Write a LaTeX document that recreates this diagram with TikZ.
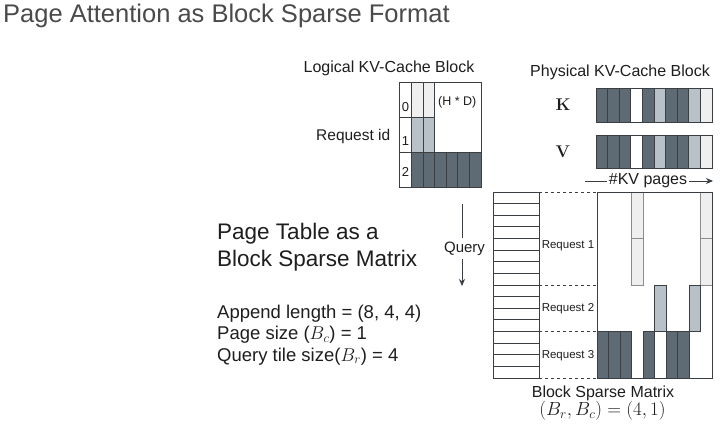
\documentclass[tikz,border=0pt]{standalone}
\usepackage{fix-cm}
\usepackage[no-math]{fontspec}
\setmainfont{Liberation Sans}
\usetikzlibrary{arrows.meta}
\definecolor{cdark}{HTML}{5E6A74}
\definecolor{cmid}{HTML}{B8C0C8}
\definecolor{clight}{HTML}{EFEFEF}
\definecolor{cedge}{HTML}{3A3F44}
\definecolor{ctitle}{HTML}{4A4A4A}
\definecolor{ctext}{HTML}{1E1E1E}
\tikzset{
  cellbox/.style={draw=cedge, line width=0.8pt},
  lightbox/.style={draw=black!45, line width=0.8pt, fill=clight},
  frame/.style={draw=cedge, line width=0.9pt},
  guide/.style={dashed, draw=cedge, line width=0.8pt, dash pattern=on 3pt off 3pt},
  txt/.style={inner sep=0pt, text=ctext},
  arr/.style={draw=cedge, line width=0.8pt, -{Stealth[length=7pt,width=6pt]}},
}
\begin{document}
\begin{tikzpicture}[x=1pt,y=-1pt]
\useasboundingbox[fill=white] (0,0) rectangle (720,428);

% title
\node[txt, anchor=base west, text=ctitle, font=\fontsize{25.5}{30}\selectfont] (title) at (3,23) {Page Attention as Block Sparse Format};

% ---------- Logical KV-cache block ----------
\node[txt, anchor=base, font=\fontsize{16}{19}\selectfont] (logt) at (389,72.5) {Logical KV-Cache Block};
\foreach \i in {0,1} \draw[lightbox, draw=cedge] ({411.5+\i*11.58},82) rectangle ++(11.58,35.5);
\foreach \i in {0,1} \draw[cellbox, fill=cmid] ({411.5+\i*11.58},117.5) rectangle ++(11.58,35);
\foreach \i in {0,...,5} \draw[cellbox, fill=cdark] ({411.5+\i*11.58},152.5) rectangle ++(11.58,34.5);
\draw[frame] (399,82) rectangle (481,187);
\draw[frame] (411.5,82) -- (411.5,187);
\draw[frame] (399,117.5) -- (411.5,117.5);
\draw[frame] (399,152.5) -- (481,152.5);
\node[txt, anchor=base, font=\fontsize{13}{15}\selectfont] (i0) at (405.5,111) {0};
\node[txt, anchor=base, font=\fontsize{13}{15}\selectfont] (i1) at (405.5,145) {1};
\node[txt, anchor=base, font=\fontsize{13}{15}\selectfont] (i2) at (405.5,176) {2};
\node[txt, anchor=base west, font=\fontsize{12.5}{15}\selectfont] (hd) at (438,105) {(H * D)};
\node[txt, anchor=base west, font=\fontsize{15.5}{18}\selectfont] (reqid) at (316,140.5) {Request id};

% ---------- Physical KV-cache block ----------
\node[txt, anchor=base, font=\fontsize{16}{19}\selectfont] (phyt) at (620,76.5) {Physical KV-Cache Block};
\node[txt, font=\fontsize{17}{20}\selectfont] (K) at (563,104.5) {$\mathbf{K}$};
\node[txt, font=\fontsize{17}{20}\selectfont] (V) at (563,152) {$\mathbf{V}$};
\foreach \c [count=\i from 0] in {cdark,cdark,cdark,white,cdark,cmid,cdark,cdark,cmid,clight}{
  \draw[cellbox, fill=\c] ({596+\i*11.6},88) rectangle ++(11.6,34);
  \draw[cellbox, fill=\c] ({596+\i*11.6},135) rectangle ++(11.6,33);
}
\node[txt, font=\fontsize{16}{19}\selectfont, inner xsep=2pt] (kv) at (648,181) {\#KV pages};
\coordinate (kvs) at (585,181);
\coordinate (kve) at (713,181);
\draw[draw=cedge, line width=0.8pt] (kvs) -- (kv.west);
\draw[arr] (kv.east) -- (kve);

% ---------- left text ----------
\node[txt, anchor=base west, font=\fontsize{22.5}{27}\selectfont] (pt1) at (217,239) {Page Table as a};
\node[txt, anchor=base west, font=\fontsize{22.5}{27}\selectfont] (pt2) at (217,266.5) {Block Sparse Matrix};
\node[txt, anchor=base west, font=\fontsize{18.5}{21}\selectfont] (al) at (217,318) {Append length = (8, 4, 4)};
\node[txt, anchor=base west, font=\fontsize{18.5}{21}\selectfont] (ps) at (217,339.5) {Page size ($B_c$) = 1};
\node[txt, anchor=base west, font=\fontsize{18.5}{21}\selectfont] (qt) at (217,361) {Query tile size($B_r$) = 4};

% Query arrow
\node[txt, font=\fontsize{15}{18}\selectfont, inner ysep=4pt] (q) at (464.5,248.5) {Query};
\coordinate (qtop) at (462,204);
\coordinate (qbot) at (462,286);
\draw[draw=cedge, line width=0.8pt] (qtop) -- (qtop |- q.north);
\draw[arr] (qbot |- q.south) -- (qbot);

% ---------- page table ----------
\draw[frame] (493,192) rectangle (539,378);
\foreach \k in {1,...,15} \draw[cellbox] (493,{192+\k*11.625}) -- (539,{192+\k*11.625});

% guides
\coordinate (g0a) at (539,192);   \coordinate (g0b) at (597,192);
\coordinate (g1a) at (539,285);   \coordinate (g1b) at (597,285);
\coordinate (g2a) at (539,331.5); \coordinate (g2b) at (597,331.5);
\coordinate (g3a) at (539,378);   \coordinate (g3b) at (597,378);
\draw[guide] (g0a) -- (g0b);
\draw[guide] (g1a) -- (g1b);
\draw[guide] (g2a) -- (g2b);
\draw[guide] (g3a) -- (g3b);
\node[txt, font=\fontsize{11.5}{14}\selectfont] (r1) at (568,245.5) {Request 1};
\node[txt, font=\fontsize{11.5}{14}\selectfont] (r2) at (568,309) {Request 2};
\node[txt, font=\fontsize{11.5}{14}\selectfont] (r3) at (568,355.5) {Request 3};

% ---------- block sparse matrix ----------
\foreach \c in {3,9}{
  \draw[lightbox] ({597+\c*11.5},192) rectangle ++(11.5,46.5);
  \draw[lightbox] ({597+\c*11.5},238.5) rectangle ++(11.5,46.5);
}
\foreach \c in {5,8} \draw[cellbox, fill=cmid] ({597+\c*11.5},285) rectangle ++(11.5,46.5);
\foreach \c in {0,1,2,4,6,7} \draw[cellbox, fill=cdark] ({597+\c*11.5},331.5) rectangle ++(11.5,46.5);
\draw[frame] (597,192) rectangle (712,378);

\node[txt, font=\fontsize{16}{19}\selectfont] (bsm) at (603,393.5) {Block Sparse Matrix};
\node[txt, font=\fontsize{19}{22}\selectfont] (brc) at (602.5,410.5) {$(B_r, B_c) = (4, 1)$};
\end{tikzpicture}
\end{document}
